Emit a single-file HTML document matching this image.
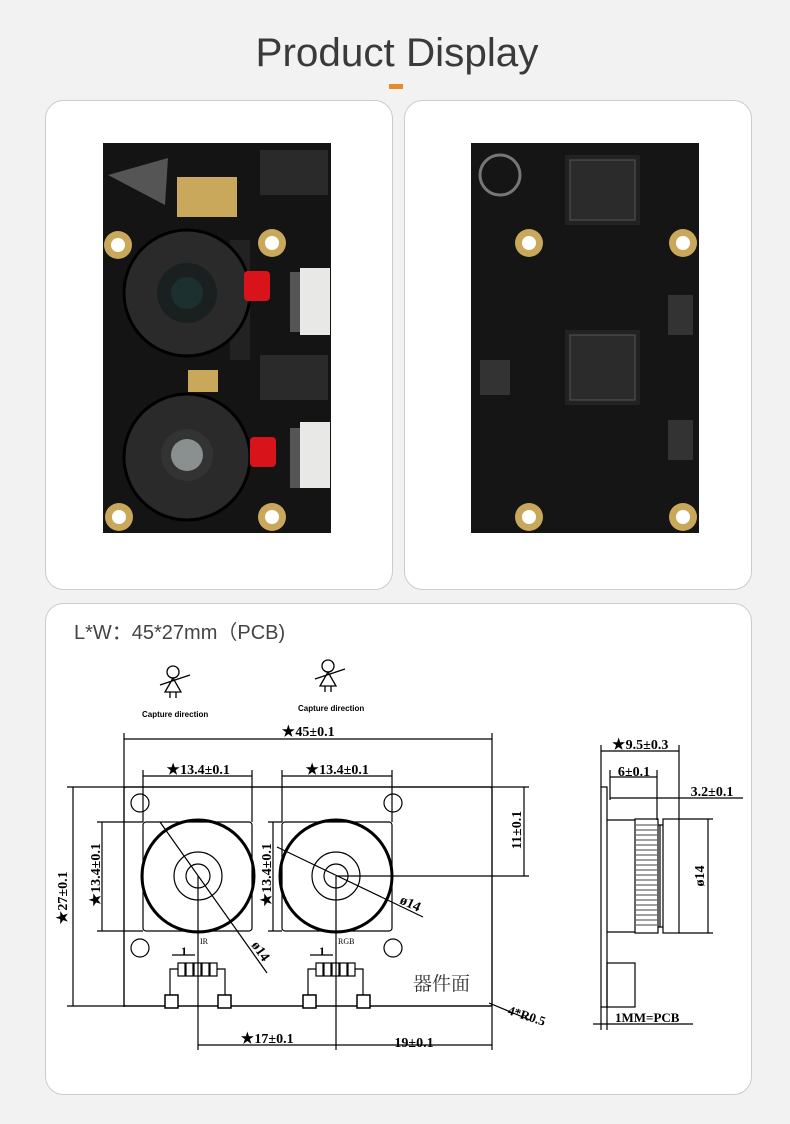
<!DOCTYPE html>
<html><head><meta charset="utf-8"><style>
html,body{margin:0;padding:0;background:#f2f2f2;width:790px;height:1124px;overflow:hidden}
svg{display:block}
.t{font-family:"Liberation Serif","Noto Serif CJK SC",serif;font-weight:bold;font-size:14px;fill:#000}
</style></head><body>
<svg width="790" height="1124" viewBox="0 0 790 1124" xmlns="http://www.w3.org/2000/svg">
<text x="397" y="66" text-anchor="middle" font-family="Liberation Sans, sans-serif" font-size="40" font-weight="300" fill="#3a3a3a" textLength="283" lengthAdjust="spacingAndGlyphs">Product Display</text>
<rect x="389" y="84" width="14" height="5" fill="#e8892b"/>
<rect x="45.5" y="100.5" width="347" height="489" rx="18" fill="#fff" stroke="#ccc"/>
<rect x="404.5" y="100.5" width="347" height="489" rx="18" fill="#fff" stroke="#ccc"/>
<rect x="45.5" y="603.5" width="706" height="491" rx="18" fill="#fff" stroke="#ccc"/>

<!-- left PCB -->
<rect x="103" y="143" width="228" height="390" fill="#141414"/>
<polygon points="108,175 168,158 165,205" fill="#555"/>
<rect x="177" y="177" width="60" height="40" fill="#c9a85c"/>
<rect x="188" y="370" width="30" height="22" fill="#c9a85c"/>
<g fill="#c9a85c"><circle cx="118" cy="245" r="14"/><circle cx="272" cy="243" r="14"/><circle cx="119" cy="517" r="14"/><circle cx="272" cy="517" r="14"/></g>
<g fill="#fff"><circle cx="118" cy="245" r="7"/><circle cx="272" cy="243" r="7"/><circle cx="119" cy="517" r="7"/><circle cx="272" cy="517" r="7"/></g>
<rect x="230" y="240" width="20" height="120" fill="#222"/>
<circle cx="187" cy="293" r="63" fill="#2a2a2a" stroke="#000" stroke-width="3"/>
<circle cx="187" cy="293" r="30" fill="#1a1f1f"/><circle cx="187" cy="293" r="16" fill="#1c3030"/>
<circle cx="187" cy="457" r="63" fill="#2a2a2a" stroke="#000" stroke-width="3"/>
<circle cx="187" cy="455" r="26" fill="#333"/><circle cx="187" cy="455" r="16" fill="#8a9090"/>
<rect x="244" y="271" width="26" height="30" rx="4" fill="#d8141a"/>
<rect x="250" y="437" width="26" height="30" rx="4" fill="#d8141a"/>
<rect x="300" y="268" width="30" height="67" fill="#e8e8e6"/>
<rect x="300" y="422" width="30" height="66" fill="#e8e8e6"/>
<rect x="290" y="272" width="10" height="60" fill="#555"/>
<rect x="290" y="428" width="10" height="60" fill="#555"/>
<rect x="260" y="150" width="68" height="45" fill="#2a2a2a"/>
<rect x="260" y="355" width="68" height="45" fill="#2a2a2a"/>

<!-- right PCB -->
<rect x="471" y="143" width="228" height="390" fill="#151515"/>
<circle cx="500" cy="175" r="20" fill="none" stroke="#777" stroke-width="3"/>
<rect x="565" y="155" width="75" height="70" fill="#222"/>
<rect x="570" y="160" width="65" height="60" fill="#2b2b2b" stroke="#555"/>
<rect x="565" y="330" width="75" height="75" fill="#222"/>
<rect x="570" y="335" width="65" height="65" fill="#2b2b2b" stroke="#555"/>
<rect x="480" y="360" width="30" height="35" fill="#333"/>
<rect x="668" y="295" width="25" height="40" fill="#333"/>
<rect x="668" y="420" width="25" height="40" fill="#333"/>
<g fill="#c9a85c"><circle cx="529" cy="243" r="14"/><circle cx="683" cy="243" r="14"/><circle cx="529" cy="517" r="14"/><circle cx="683" cy="517" r="14"/></g>
<g fill="#fff"><circle cx="529" cy="243" r="7"/><circle cx="683" cy="243" r="7"/><circle cx="529" cy="517" r="7"/><circle cx="683" cy="517" r="7"/></g>

<!-- title bottom -->
<text x="74" y="639" font-family="Liberation Sans, 'Noto Sans CJK SC', sans-serif" font-size="20" fill="#444">L*W：45*27mm（PCB)</text>
<g stroke="#000" fill="none" stroke-width="1.3">
<circle cx="173" cy="672" r="6"/><path d="M173 678 L165 692 L181 692 Z M170 692 v6 M176 692 v6 M160 685 l30 -10"/>
<circle cx="328" cy="666" r="6"/><path d="M328 672 L320 686 L336 686 Z M325 686 v6 M331 686 v6 M315 679 l30 -10"/>
</g>
<text x="142" y="717" font-family="Liberation Sans, sans-serif" font-size="8" font-weight="bold">Capture direction</text>
<text x="298" y="711" font-family="Liberation Sans, sans-serif" font-size="8" font-weight="bold">Capture direction</text>

<!-- drawing -->
<g stroke="#000" fill="none" stroke-width="1.2">
<path d="M124 733 V1007 M492 733 V1050 M124 739 H492"/>
<path d="M67 787 H529 M67 1006 H492 M73 787 V1006"/>
<rect x="124" y="787" width="368" height="219" rx="2"/>
<rect x="143" y="822" width="109" height="109" rx="3"/>
<rect x="282" y="822" width="110" height="109" rx="3"/>
<circle cx="198" cy="876" r="56" stroke-width="3"/>
<circle cx="198" cy="876" r="24"/><circle cx="198" cy="876" r="12"/>
<circle cx="336" cy="876" r="56" stroke-width="3"/>
<circle cx="336" cy="876" r="24"/><circle cx="336" cy="876" r="12"/>
<circle cx="140" cy="803" r="9"/><circle cx="393" cy="803" r="9"/><circle cx="140" cy="948" r="9"/><circle cx="393" cy="948" r="9"/>
<path d="M143 770 V822 M252 770 V822 M143 776 H252"/>
<path d="M282 770 V822 M392 770 V822 M282 776 H392"/>
<path d="M97 822 H143 M97 931 H143 M102 822 V931"/>
<path d="M268 822 H282 M268 931 H282 M273 822 V931"/>
<path d="M524 787 V876 M336 876 H529"/>
<path d="M198 876 V1050 M336 876 V1050 M198 1045 H336 M336 1045 H492"/>
<path d="M160 822 L267 973 M277 847 L423 917"/>
<path d="M489 1003 L530 1020"/>
<rect x="178" y="963" width="7" height="13"/><rect x="186" y="963" width="7" height="13"/><rect x="194" y="963" width="7" height="13"/><rect x="202" y="963" width="7" height="13"/><rect x="210" y="963" width="7" height="13"/>
<rect x="316" y="963" width="7" height="13"/><rect x="324" y="963" width="7" height="13"/><rect x="332" y="963" width="7" height="13"/><rect x="340" y="963" width="7" height="13"/><rect x="348" y="963" width="7" height="13"/>
<path d="M178 969 H170 V995 M217 969 H225 V995 M316 969 H308 V995 M355 969 H363 V995"/>
<path d="M172 955 H195 M310 955 H333"/>
</g>
<g fill="#fff" stroke="#000" stroke-width="1.5">
<rect x="165" y="995" width="13" height="13"/><rect x="218" y="995" width="13" height="13"/>
<rect x="303" y="995" width="13" height="13"/><rect x="357" y="995" width="13" height="13"/>
</g>
<text class="t" x="308" y="736" text-anchor="middle">★45±0.1</text>
<text class="t" x="198" y="774" text-anchor="middle">★13.4±0.1</text>
<text class="t" x="337" y="774" text-anchor="middle">★13.4±0.1</text>
<text x="200" y="944" style="font-family:'Liberation Serif',serif;font-size:8px;fill:#000">IR</text>
<text x="338" y="944" style="font-family:'Liberation Serif',serif;font-size:8px;fill:#000">RGB</text>
<text x="181" y="955" style="font-family:'Liberation Serif',serif;font-size:12px;font-weight:bold">1</text>
<text x="319" y="955" style="font-family:'Liberation Serif',serif;font-size:12px;font-weight:bold">1</text>
<text class="t" x="267" y="1043" text-anchor="middle">★17±0.1</text>
<text class="t" x="414" y="1047" text-anchor="middle">19±0.1</text>
<text x="413" y="990" font-family="'Noto Serif CJK SC',serif" font-size="19" fill="#333">器件面</text>
<text class="t" transform="translate(67,898) rotate(-90)" text-anchor="middle">★27±0.1</text>
<text class="t" transform="translate(100,875) rotate(-90)" text-anchor="middle">★13.4±0.1</text>
<text class="t" transform="translate(271,875) rotate(-90)" text-anchor="middle">★13.4±0.1</text>
<text class="t" transform="translate(521,830) rotate(-90)" text-anchor="middle">11±0.1</text>
<text class="t" transform="translate(251,945) rotate(55)">ø14</text>
<text class="t" transform="translate(399,903) rotate(25)">ø14</text>
<text transform="translate(507,1014) rotate(18)" style="font-family:'Liberation Serif',serif;font-size:13px;font-weight:bold">4*R0.5</text>

<!-- side view -->
<g stroke="#000" fill="none" stroke-width="1.2">
<rect x="601" y="787" width="6" height="220"/>
<path d="M601 745 V787 M679 745 V820 M601 751 H679"/>
<path d="M610 770 V800 M657 770 V820 M610 777 H657"/>
<path d="M610 798 H743"/>
<path d="M607 820 H635 M607 932 H635"/>
<rect x="635" y="819" width="23" height="114"/>
<path d="M658 825 H663 M658 927 H663 M660 825 V927"/>
<rect x="663" y="819" width="16" height="114"/>
<path d="M679 819 H713 M679 933 H713 M708 819 V933"/>
<rect x="607" y="963" width="28" height="44"/>
<path d="M593 1024 H615 M612 1024 H693 M601 1007 V1030 M607 1007 V1030"/>
</g>
<g stroke="#000" stroke-width="0.8"><path d="M636 825 H657 M636 830 H657 M636 835 H657 M636 840 H657 M636 845 H657 M636 850 H657 M636 855 H657 M636 860 H657 M636 865 H657 M636 870 H657 M636 875 H657 M636 880 H657 M636 885 H657 M636 890 H657 M636 895 H657 M636 900 H657 M636 905 H657 M636 910 H657 M636 915 H657 M636 920 H657 M636 925 H657"/></g>
<text class="t" x="640" y="749" text-anchor="middle">★9.5±0.3</text>
<text class="t" x="634" y="776" text-anchor="middle">6±0.1</text>
<text class="t" x="712" y="796" text-anchor="middle">3.2±0.1</text>
<text class="t" transform="translate(704,876) rotate(-90)" text-anchor="middle">ø14</text>
<text x="615" y="1022" style="font-family:'Liberation Serif',serif;font-size:13px;font-weight:bold">1MM=PCB</text>
</svg>
</body></html>
